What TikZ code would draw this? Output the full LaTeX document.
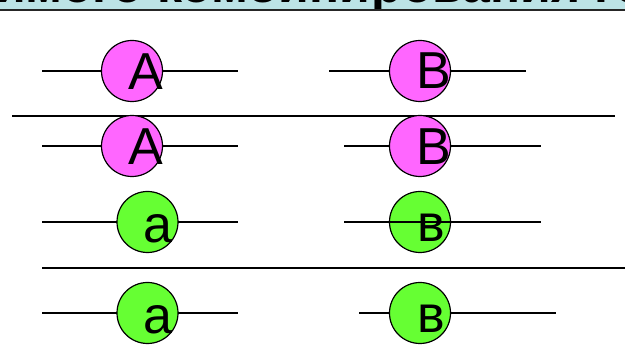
\documentclass[tikz,border=0pt]{standalone}
\usepackage{fontspec}
\setmainfont{Liberation Sans}
\usetikzlibrary{positioning, calc}

\definecolor{bandteal}{HTML}{BCE3E6}
\definecolor{allelepink}{HTML}{FF66FF}
\definecolor{allelegreen}{HTML}{66FF33}

\begin{document}
\begin{tikzpicture}[x=1pt,y=-1pt,line width=1.2pt,
    allele/.style={circle,draw=black,line width=1.2pt,fill=#1,minimum size=61pt,inner sep=0pt},
    letter/.style={inner sep=0pt,font=\fontsize{52}{52}\selectfont},
    titletext/.style={inner sep=0pt,font=\bfseries\fontsize{50}{50}\selectfont},
    chrom/.style={line width=1.3pt}]
      \useasboundingbox (0,0) rectangle (625,347);
      % cut-off title band
      \begin{scope}
        \clip (0,0) rectangle (625,11);
        \fill[bandteal] (0,0) rectangle (625,9.5);
        \node[titletext,anchor=base east] (titleL) at (371,2.5) {независимого комбини};
        \node[titletext,anchor=base west] (titleR) at (titleL.base east) {рования генов};
      \end{scope}
      \draw[line width=1.6pt,black!85] (0,10) -- (625,10);
      % chromosome ends
      \coordinate (a1l) at (42,71);  \coordinate (a1r) at (238,71);
      \coordinate (b1l) at (329,71); \coordinate (b1r) at (526,71);
      \coordinate (a2l) at (42,146); \coordinate (a2r) at (238,146);
      \coordinate (b2l) at (344,146);\coordinate (b2r) at (541,146);
      \coordinate (a3l) at (42,222); \coordinate (a3r) at (238,222);
      \coordinate (b3l) at (344,222);\coordinate (b3r) at (541,222);
      \coordinate (a4l) at (42,313); \coordinate (a4r) at (238,313);
      \coordinate (b4l) at (359,313);\coordinate (b4r) at (556,313);
      % separators
      \coordinate (s1l) at (12,116); \coordinate (s1r) at (615,116);
      \coordinate (s2l) at (42,268); \coordinate (s2r) at (625,268);
      \draw[chrom] (s1l) -- (s1r);
      \draw[chrom] (s2l) -- (s2r);
      \draw[chrom] (a1l) -- (a1r) (b1l) -- (b1r)
        (a2l) -- (a2r) (b2l) -- (b2r)
        (a3l) -- (a3r)
        (a4l) -- (a4r) (b4l) -- (b4r);
      % alleles
      \node[allele=allelepink] (A1) at (132,71) {};
      \node[allele=allelepink] (B1) at (420,71) {};
      \node[allele=allelepink] (A2) at (132,146) {};
      \node[allele=allelepink] (B2) at (420,146) {};
      \node[allele=allelegreen] (a3) at (147.5,222) {};
      \node[allele=allelegreen] (b3) at (420,222) {};
      \node[allele=allelegreen] (a4) at (147.5,313) {};
      \node[allele=allelegreen] (b4) at (420,313) {};
      \draw[chrom] (b3l) -- (b3r);
      \node[letter] at ($(A1)+(14,0.5)$) {A};
      \node[letter] at ($(B1)+(14,0)$) {B};
      \node[letter] at ($(A2)+(14,0.5)$) {A};
      \node[letter] at ($(B2)+(14,1)$) {B};
      \node[letter] at ($(a3)+(10,7)$) {a};
      \node[letter] at ($(b3)+(11,6)$) {в};
      \node[letter] at ($(a4)+(10,7)$) {a};
      \node[letter] at ($(b4)+(11,6)$) {в};
    \end{tikzpicture}
\end{document}
